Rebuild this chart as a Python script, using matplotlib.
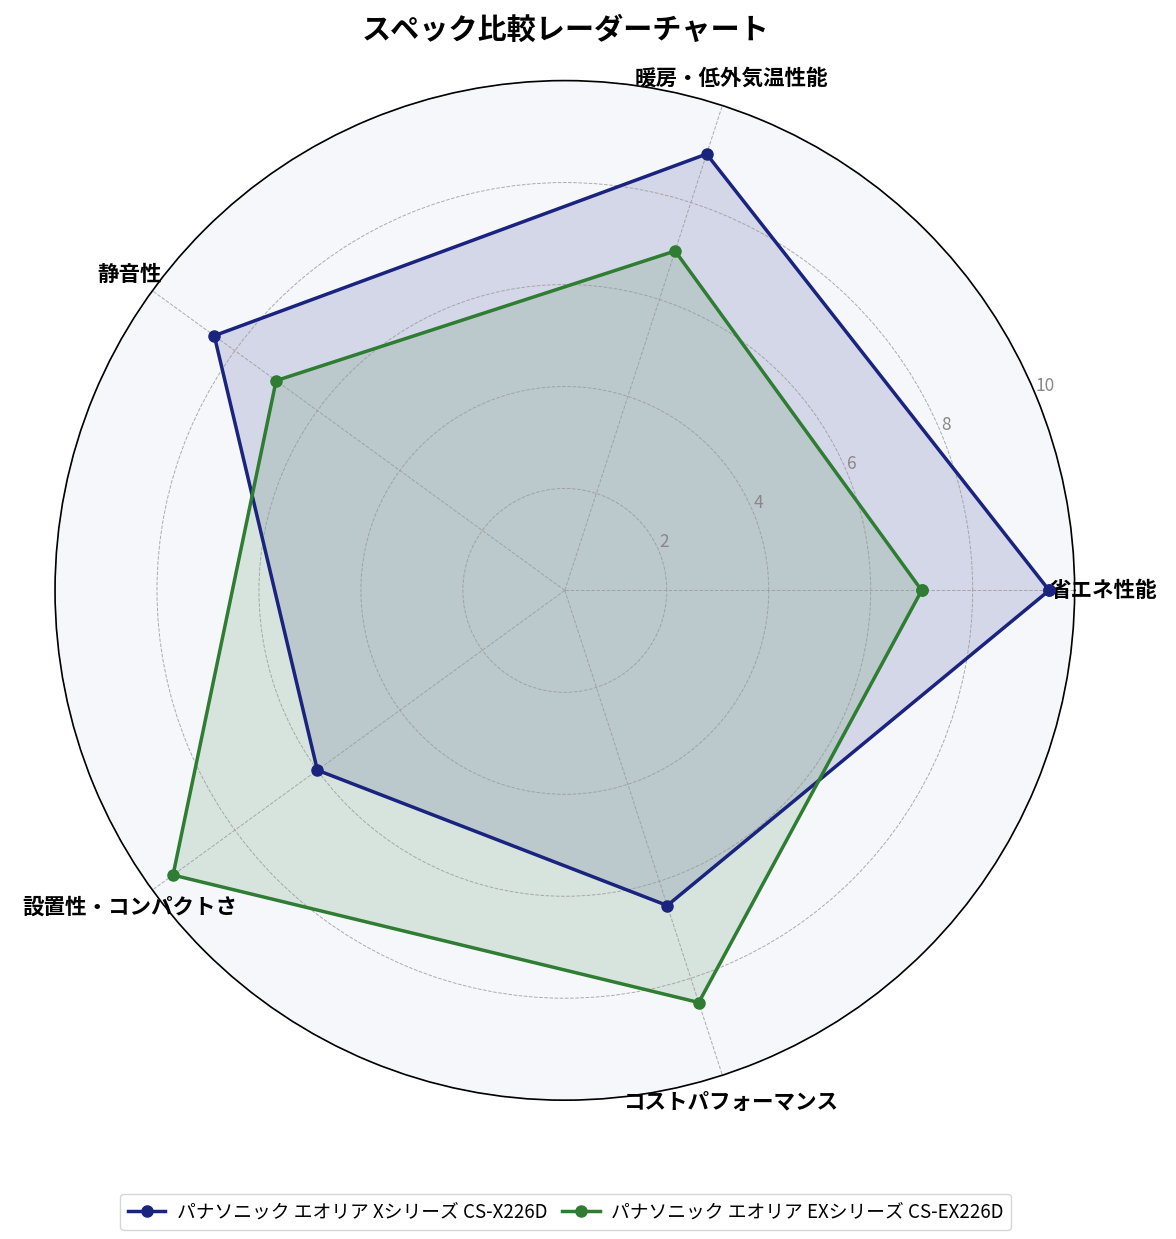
import numpy as np
import matplotlib.pyplot as plt

plt.rcParams['font.family'] = ['Noto Sans CJK JP', 'DejaVu Sans']

categories = ['省エネ性能', '暖房・低外気温性能', '静音性', '設置性・コンパクトさ', 'コストパフォーマンス']
series_names = ['パナソニック エオリア Xシリーズ CS-X226D', 'パナソニック エオリア EXシリーズ CS-EX226D']
x_values = [9.5, 9.0, 8.5, 6.0, 6.5]
ex_values = [7.0, 7.0, 7.0, 9.5, 8.5]
colors = ['#1a237e', '#2e7d32']
r_ticks = [2, 4, 6, 8, 10]

n = len(categories)
angles = np.linspace(0, 2 * np.pi, n, endpoint=False).tolist()
angles += angles[:1]

fig = plt.figure(figsize=(11.76, 12.39), dpi=100)
ax = fig.add_axes([0.0468, 0.112, 0.867, 0.823], polar=True)
ax.set_facecolor('#f5f7fb')

for vals, name, c in zip([x_values, ex_values], series_names, colors):
    v = vals + vals[:1]
    ax.plot(angles, v, color=c, linewidth=2.5, marker='o', markersize=8, label=name)
    ax.fill(angles, v, color=c, alpha=0.15)

ax.set_ylim(0, 10)
ax.set_yticks(r_ticks)
ax.set_yticklabels([str(t) for t in r_ticks], color='#888888', fontsize=12.5)
ax.set_rlabel_position(22.5)
ax.set_xticks(angles[:-1])
ax.set_xticklabels(categories, fontsize=15.5, fontweight='bold')
ax.tick_params(axis='x', pad=10)
ax.grid(color='#999999', linestyle='--', linewidth=0.7, alpha=0.8)
ax.spines['polar'].set_color('black')
ax.spines['polar'].set_linewidth(1.2)

fig.suptitle('スペック比較レーダーチャート', fontsize=21, fontweight='bold', x=0.481, y=0.988)
fig.legend(loc='lower center', ncol=2, bbox_to_anchor=(0.481, 0.0), fontsize=13.5,
           frameon=True, edgecolor='#cccccc', columnspacing=0.8, handletextpad=0.6)

plt.savefig('out.png', dpi=100)
